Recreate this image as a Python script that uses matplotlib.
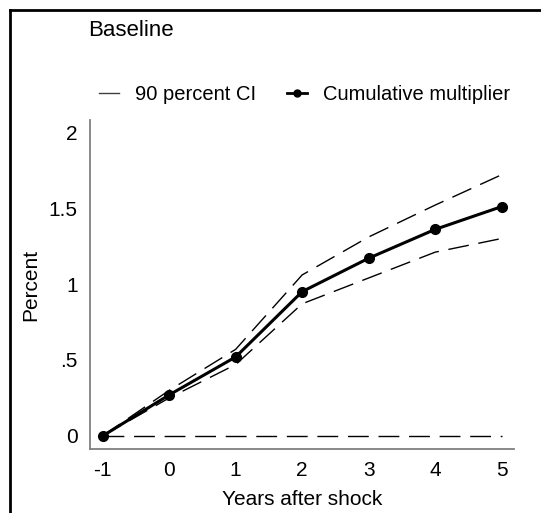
import numpy as np
import matplotlib
matplotlib.use('Agg')
import matplotlib.pyplot as plt
from matplotlib.lines import Line2D

plt.rcParams['font.family'] = ['Liberation Sans', 'DejaVu Sans']

# Data
years = [-1, 0, 1, 2, 3, 4, 5]
multiplier = [0.0, 0.27, 0.52, 0.95, 1.17, 1.36, 1.51]
ci_upper = [0.0, 0.30, 0.57, 1.06, 1.31, 1.52, 1.72]
ci_lower = [0.0, 0.25, 0.47, 0.87, 1.04, 1.21, 1.30]
yticks = [0, 0.5, 1, 1.5, 2]
yticklabels = ['0', '.5', '1', '1.5', '2']

fig = plt.figure(figsize=(5.41, 5.13), dpi=100)
ax = fig.add_axes([0.1664, 0.1248, 0.7836, 0.6412])

dash = (0, (15, 7))
ax.plot(years, [0] * len(years), color='black', lw=1.0, linestyle=dash)
ax.plot(years, ci_upper, color='black', lw=1.0, linestyle=dash)
ax.plot(years, ci_lower, color='black', lw=1.0, linestyle=dash)
ax.plot(years, multiplier, color='black', lw=2.2, marker='o', ms=7)

ax.set_xlim(-1.19, 5.185)
ax.set_ylim(-0.086, 2.08)
ax.set_xticks(years)
ax.set_xticklabels([str(y) for y in years])
ax.set_yticks(yticks)
ax.set_yticklabels(yticklabels)
ax.tick_params(length=0, labelsize=15)
ax.tick_params(axis='x', pad=9)
ax.tick_params(axis='y', pad=9)
for s in ['top', 'right']:
    ax.spines[s].set_visible(False)
for s in ['left', 'bottom']:
    ax.spines[s].set_color('#808080')
    ax.spines[s].set_linewidth(1.3)

ax.set_xlabel('Years after shock', fontsize=15, labelpad=7)
ax.set_ylabel('Percent', fontsize=15, labelpad=6)

fig.text(88 / 541, 1 - 31 / 513, 'Baseline', fontsize=16, va='center', ha='left')

handles = [Line2D([], [], color='#404040', lw=1.0),
           Line2D([], [], color='black', lw=2.0, marker='o', ms=5)]
fig.legend(handles, ['90 percent CI', 'Cumulative multiplier'],
           loc='center left', bbox_to_anchor=(81 / 541, 1 - 95 / 513),
           ncol=2, frameon=False, fontsize=14.5, handlelength=1.0,
           handletextpad=0.8, columnspacing=1.5)

# outer frame (left and top edges)
fig.add_artist(Line2D([10 / 541, 10 / 541], [0, 1 - 10 / 513], color='black', lw=2, transform=fig.transFigure))
fig.add_artist(Line2D([10 / 541, 1], [1 - 10 / 513, 1 - 10 / 513], color='black', lw=2, transform=fig.transFigure))

fig.savefig('out.png', dpi=100)
